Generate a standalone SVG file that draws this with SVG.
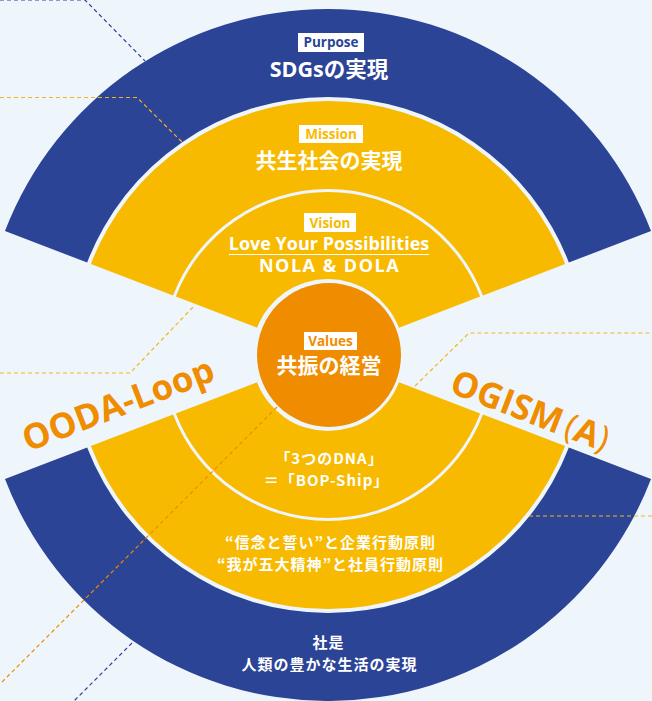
<svg xmlns="http://www.w3.org/2000/svg" width="652" height="701" viewBox="0 0 652 701">
<defs>
<style>
.bg{fill:#eef6fc}
.blue{fill:#2c4496}
.yel{fill:#f8ba00}
.org{fill:#f08c00}
.dash{fill:none;stroke-width:1.2;stroke-dasharray:4 3}
.t{font-family:"Open Sans","Noto Sans CJK JP",sans-serif;font-weight:bold;text-anchor:middle;fill:#ffffff}
.j{font-family:"Noto Sans CJK JP",sans-serif;font-weight:bold;text-anchor:middle;fill:#ffffff;font-size:15px;letter-spacing:1px}
.lab{font-family:"Open Sans","Noto Sans CJK JP",sans-serif;font-weight:bold;text-anchor:middle;font-size:13.5px}
.big{font-family:"Open Sans","Noto Sans CJK JP",sans-serif;font-weight:bold;font-size:35px;fill:#f08c00}
.par{font-weight:normal}
</style>
</defs>
<rect class="bg" x="0" y="0" width="652" height="701"/>
<g id="purpose">
<path class="blue" d="M4.98,231 A346,346 0 0 1 651.02,231 L568.86,262.54 A258,258 0 0 0 87.14,262.54 Z"/>
<rect x="298" y="33" width="66" height="19" fill="#ffffff"/>
<text class="lab" x="331" y="47" fill="#2c4496">Purpose</text>
<text class="t" x="329" y="77" font-size="21.5">SDGsの実現</text>
</g>
<g id="mission">
<path class="yel" d="M90.87,263.97 A254,254 0 0 1 565.13,263.97 L482.97,295.51 A166,166 0 0 0 173.03,295.51 Z"/>
<rect x="299" y="125" width="64" height="18" fill="#ffffff"/>
<text class="lab" x="331" y="139" fill="#f8ba00">Mission</text>
<text class="t" x="329" y="168" font-size="21">共生社会の実現</text>
</g>
<g id="vision">
<path class="yel" d="M175.83,296.59 A163,163 0 0 1 480.17,296.59 L398.95,327.76 A76,76 0 0 0 257.05,327.76 Z"/>
<rect x="304" y="213" width="52" height="19" fill="#ffffff"/>
<text class="lab" x="330" y="227.5" fill="#f8ba00">Vision</text>
<text class="t" x="329" y="250" font-size="18">Love Your Possibilities</text>
<line x1="229" y1="254.5" x2="429" y2="254.5" stroke="#ffffff" stroke-width="1"/>
<text class="t" x="329.5" y="272" font-size="18" letter-spacing="1.5">NOLA &amp; DOLA</text>
</g>
<g id="dna">
<path class="yel" d="M175.83,413.41 A163,163 0 0 0 480.17,413.41 L398.95,382.24 A76,76 0 0 1 257.05,382.24 Z"/>
<text class="j"><tspan x="329.5" y="464">「3つのDNA」</tspan><tspan x="326.5" y="486">＝「BOP-Ship」</tspan></text>
</g>
<g id="principles">
<path class="yel" d="M90.87,446.03 A254,254 0 0 0 565.13,446.03 L482.97,414.49 A166,166 0 0 1 173.03,414.49 Z"/>
<text class="j"><tspan x="330.5" y="548">“信念と誓い”と企業行動原則</tspan><tspan x="330.5" y="570">“我が五大精神”と社員行動原則</tspan></text>
</g>
<g id="motto">
<path class="blue" d="M4.98,479 A346,346 0 0 0 651.02,479 L568.86,447.46 A258,258 0 0 1 87.14,447.46 Z"/>
<text class="j"><tspan x="328.5" y="648">社是</tspan><tspan x="329.5" y="670">人類の豊かな生活の実現</tspan></text>
</g>
<g id="values">
<circle cx="329" cy="355" r="72" class="org"/>
<rect x="304" y="332" width="53" height="18" fill="#ffffff"/>
<text class="lab" x="330.5" y="346" fill="#f08c00">Values</text>
<text class="t" x="329" y="373" font-size="21">共振の経営</text>
</g>
<g id="connectors">
<polyline class="dash" stroke="#2c4496" points="0,0 85,0 145,61"/>
<polyline class="dash" stroke="#f2b51e" points="0,97.5 137,97.5 182,142"/>
<polyline class="dash" stroke="#f2b51e" points="0,373 130,373 195,305"/>
<line class="dash" stroke="#ef8a00" x1="277" y1="407" x2="-5" y2="689"/>
<line class="dash" stroke="#2c4496" x1="132" y1="643" x2="73" y2="702"/>
<polyline class="dash" stroke="#f2b51e" points="415,386 469,333 652,333"/>
<line class="dash" stroke="#f2b51e" x1="529" y1="516" x2="652" y2="516"/>
</g>
<g id="ooda">
<text class="big" transform="translate(28,452) rotate(-21)">OODA-Loop</text>
</g>
<g id="ogism">
<text class="big" transform="translate(448,392) rotate(21)">OGISM<tspan class="par" dx="5">(</tspan>A<tspan class="par">)</tspan></text>
</g>
</svg>
